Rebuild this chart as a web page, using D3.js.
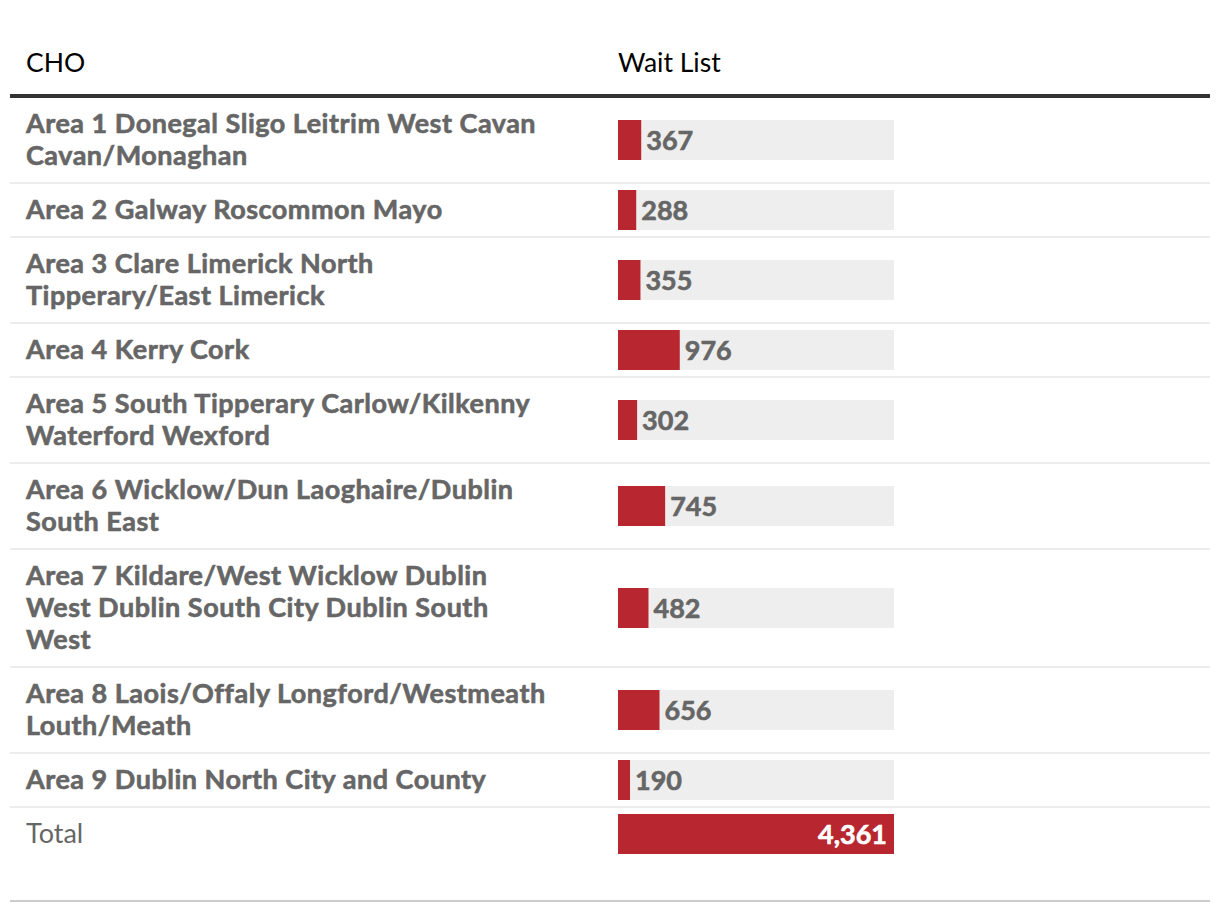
<!DOCTYPE html>
<html>
<head>
<meta charset="utf-8">
<script src="https://cdn.jsdelivr.net/npm/d3@7"></script>
<style>
  body { margin: 0; background: #fff; }
  text { font-family: Lato, "Open Sans", sans-serif; }
</style>
</head>
<body>
<script>
// data
var headers = ["CHO", "Wait List"];
var areaLines = [
    ["Area 1 Donegal Sligo Leitrim West Cavan", "Cavan/Monaghan"],
    ["Area 2 Galway Roscommon Mayo"],
    ["Area 3 Clare Limerick North", "Tipperary/East Limerick"],
    ["Area 4 Kerry Cork"],
    ["Area 5 South Tipperary Carlow/Kilkenny", "Waterford Wexford"],
    ["Area 6 Wicklow/Dun Laoghaire/Dublin", "South East"],
    ["Area 7 Kildare/West Wicklow Dublin", "West Dublin South City Dublin South", "West"],
    ["Area 8 Laois/Offaly Longford/Westmeath", "Louth/Meath"],
    ["Area 9 Dublin North City and County"]
];
var waitList = [367, 288, 355, 976, 302, 745, 482, 656, 190];
var totalLabel = "Total";
var totalValue = 4361;

var width = 1220;
var height = 912;
var barX = 618;
var barW = 276;
var barH = 40;
var lineH = 32;
var pad = 11;

var svg = d3.select("body")
    .append("svg")
    .attr("width", width)
    .attr("height", height);

var x = d3.scaleLinear().domain([0, totalValue]).range([0, barW]);
var fmt = d3.format(",");

// header
svg.append("text").attr("x", 26).attr("y", 72)
    .attr("font-size", 26.5).attr("fill", "#000").text(headers[0]);
svg.append("text").attr("x", 618).attr("y", 72)
    .attr("font-size", 26.5).attr("fill", "#000").text(headers[1]);
svg.append("rect").attr("x", 10).attr("y", 94).attr("width", 1200).attr("height", 4)
    .attr("fill", "#333");

// rows: vertical layout from number of label lines
var rows = areaLines.map(function (lines, i) {
    return { lines: lines, value: waitList[i], bold: true };
});
rows.push({ lines: [totalLabel], value: totalValue, bold: false, total: true });

var y0 = 97;
rows.forEach(function (r) {
    r.h = r.lines.length * lineH + pad * 2;
    r.top = y0;
    r.center = y0 + r.h / 2;
    y0 += r.h;
});

var g = svg.selectAll("g.row")
    .data(rows)
    .enter()
    .append("g")
    .attr("class", "row");

// separators
g.filter(function (d) { return !d.total; })
    .append("rect")
    .attr("x", 10)
    .attr("y", function (d) { return d.top + d.h - 1; })
    .attr("width", 1200)
    .attr("height", 2)
    .attr("fill", "#ececec");

// labels
g.append("text")
    .attr("font-size", 27)
    .attr("font-weight", function (d) { return d.bold ? 700 : 400; })
    .attr("letter-spacing", function (d) { return d.bold ? 0.5 : 0; })
    .attr("fill", "#666")
    .attr("stroke", function (d) { return d.bold ? "#666" : "none"; })
    .attr("stroke-width", 0.6)
    .selectAll("tspan")
    .data(function (d) {
        return d.lines.map(function (t, i) {
            return { t: t, y: d.center + (i - (d.lines.length - 1) / 2) * lineH + 9 };
        });
    })
    .enter()
    .append("tspan")
    .attr("x", 26)
    .attr("y", function (d) { return d.y; })
    .text(function (d) { return d.t; });

// bar background
g.filter(function (d) { return !d.total; })
    .append("rect")
    .attr("x", barX)
    .attr("y", function (d) { return d.center - barH / 2; })
    .attr("width", barW)
    .attr("height", barH)
    .attr("fill", "#eeeeee");

// bar
g.append("rect")
    .attr("x", barX)
    .attr("y", function (d) { return d.center - barH / 2; })
    .attr("width", function (d) { return x(d.value); })
    .attr("height", barH)
    .attr("fill", "#b8272f");

// values
g.append("text")
    .attr("font-size", 27)
    .attr("font-weight", 700)
    .attr("fill", function (d) { return d.total ? "#fff" : "#666"; })
    .attr("stroke", function (d) { return d.total ? "#fff" : "#666"; })
    .attr("stroke-width", 0.6)
    .attr("text-anchor", function (d) { return d.total ? "end" : "start"; })
    .attr("x", function (d) { return d.total ? barX + barW - 7 : barX + x(d.value) + 5; })
    .attr("y", function (d) { return d.center + 10; })
    .text(function (d) { return fmt(d.value); });

// bottom rule
svg.append("rect").attr("x", 10).attr("y", 900).attr("width", 1200).attr("height", 2)
    .attr("fill", "#cccccc");
</script>
</body>
</html>
